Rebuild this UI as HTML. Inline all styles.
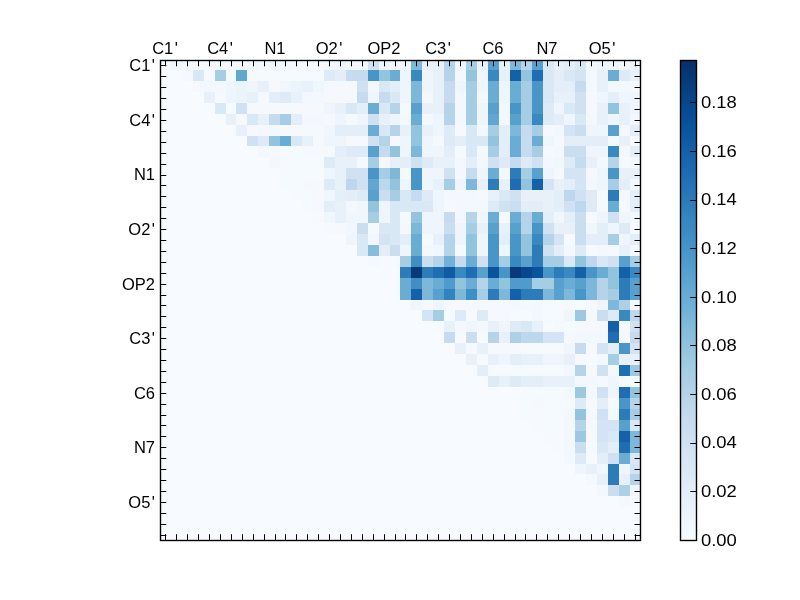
<!DOCTYPE html>
<html><head><meta charset="utf-8"><style>
html,body{margin:0;padding:0;background:#fff;}
body{width:800px;height:600px;position:relative;overflow:hidden;font-family:"Liberation Sans",sans-serif;}
.t{position:absolute;font-size:16.5px;line-height:40px;height:40px;color:#000;white-space:nowrap;will-change:transform;}
svg{position:absolute;left:0;top:0;}
</style></head><body>
<svg width="800" height="600" viewBox="0 0 800 600">
<defs><linearGradient id="g" x1="0" y1="1" x2="0" y2="0"><stop offset="0.0000" stop-color="#f7fbff"/><stop offset="0.0312" stop-color="#f1f7fd"/><stop offset="0.0625" stop-color="#eaf3fb"/><stop offset="0.0938" stop-color="#e4eff9"/><stop offset="0.1250" stop-color="#deebf7"/><stop offset="0.1562" stop-color="#d8e7f5"/><stop offset="0.1875" stop-color="#d2e3f3"/><stop offset="0.2188" stop-color="#ccdff1"/><stop offset="0.2500" stop-color="#c6dbef"/><stop offset="0.2812" stop-color="#bcd7eb"/><stop offset="0.3125" stop-color="#b2d2e8"/><stop offset="0.3438" stop-color="#a8cee4"/><stop offset="0.3750" stop-color="#9dcae1"/><stop offset="0.4062" stop-color="#91c3de"/><stop offset="0.4375" stop-color="#84bcdb"/><stop offset="0.4688" stop-color="#77b5d9"/><stop offset="0.5000" stop-color="#6aaed6"/><stop offset="0.5312" stop-color="#60a7d2"/><stop offset="0.5625" stop-color="#56a0ce"/><stop offset="0.5938" stop-color="#4b98ca"/><stop offset="0.6250" stop-color="#4191c6"/><stop offset="0.6562" stop-color="#3989c1"/><stop offset="0.6875" stop-color="#3181bd"/><stop offset="0.7188" stop-color="#2979b9"/><stop offset="0.7500" stop-color="#2070b4"/><stop offset="0.7812" stop-color="#1a68ae"/><stop offset="0.8125" stop-color="#1460a8"/><stop offset="0.8438" stop-color="#0e58a2"/><stop offset="0.8750" stop-color="#08509b"/><stop offset="0.9062" stop-color="#08488e"/><stop offset="0.9375" stop-color="#084082"/><stop offset="0.9688" stop-color="#083776"/><stop offset="1.0000" stop-color="#08306b"/></linearGradient></defs>
<rect x="160" y="60" width="480" height="480" fill="#f7fbff"/>
<g shape-rendering="crispEdges"><rect x="171" y="60" width="11" height="10" fill="#eff6fc"/><rect x="182" y="60" width="11" height="10" fill="#f2f8fd"/><rect x="193" y="60" width="11" height="10" fill="#f5f9fe"/><rect x="204" y="60" width="11" height="10" fill="#f2f8fd"/><rect x="215" y="60" width="11" height="10" fill="#f2f8fd"/><rect x="226" y="60" width="10" height="10" fill="#f5f9fe"/><rect x="236" y="60" width="11" height="10" fill="#f5f9fe"/><rect x="247" y="60" width="11" height="10" fill="#eff6fc"/><rect x="258" y="60" width="11" height="10" fill="#f2f8fd"/><rect x="269" y="60" width="11" height="10" fill="#eef5fc"/><rect x="280" y="60" width="11" height="10" fill="#f2f8fd"/><rect x="291" y="60" width="11" height="10" fill="#f5f9fe"/><rect x="302" y="60" width="11" height="10" fill="#f5f9fe"/><rect x="313" y="60" width="11" height="10" fill="#f5f9fe"/><rect x="324" y="60" width="11" height="10" fill="#f2f8fd"/><rect x="335" y="60" width="11" height="10" fill="#eef5fc"/><rect x="346" y="60" width="11" height="10" fill="#f2f8fd"/><rect x="357" y="60" width="11" height="10" fill="#f2f8fd"/><rect x="368" y="60" width="11" height="10" fill="#d0e1f2"/><rect x="379" y="60" width="11" height="10" fill="#eef5fc"/><rect x="390" y="60" width="10" height="10" fill="#f2f8fd"/><rect x="400" y="60" width="11" height="10" fill="#eef5fc"/><rect x="411" y="60" width="11" height="10" fill="#7db8da"/><rect x="422" y="60" width="11" height="10" fill="#e8f1fa"/><rect x="433" y="60" width="11" height="10" fill="#e8f1fa"/><rect x="444" y="60" width="11" height="10" fill="#b5d4e9"/><rect x="455" y="60" width="11" height="10" fill="#eef5fc"/><rect x="466" y="60" width="11" height="10" fill="#a5cde3"/><rect x="477" y="60" width="11" height="10" fill="#e8f1fa"/><rect x="488" y="60" width="11" height="10" fill="#58a1cf"/><rect x="499" y="60" width="11" height="10" fill="#e8f1fa"/><rect x="510" y="60" width="11" height="10" fill="#7db8da"/><rect x="521" y="60" width="11" height="10" fill="#b5d4e9"/><rect x="532" y="60" width="11" height="10" fill="#58a1cf"/><rect x="543" y="60" width="11" height="10" fill="#d9e8f5"/><rect x="554" y="60" width="10" height="10" fill="#e8f1fa"/><rect x="564" y="60" width="11" height="10" fill="#e3eef9"/><rect x="575" y="60" width="11" height="10" fill="#d9e8f5"/><rect x="586" y="60" width="11" height="10" fill="#f2f8fd"/><rect x="597" y="60" width="11" height="10" fill="#eef5fc"/><rect x="608" y="60" width="11" height="10" fill="#eef5fc"/><rect x="619" y="60" width="11" height="10" fill="#f2f8fd"/><rect x="630" y="60" width="10" height="10" fill="#eef5fc"/><rect x="182" y="70" width="11" height="11" fill="#f5f9fe"/><rect x="193" y="70" width="11" height="11" fill="#d9e8f5"/><rect x="204" y="70" width="11" height="11" fill="#f5fafe"/><rect x="215" y="70" width="11" height="11" fill="#a5cde3"/><rect x="226" y="70" width="10" height="11" fill="#f5fafe"/><rect x="236" y="70" width="11" height="11" fill="#60a7d2"/><rect x="247" y="70" width="11" height="11" fill="#f5fafe"/><rect x="258" y="70" width="11" height="11" fill="#f5fafe"/><rect x="269" y="70" width="11" height="11" fill="#f5fafe"/><rect x="280" y="70" width="11" height="11" fill="#f5fafe"/><rect x="291" y="70" width="11" height="11" fill="#f5fafe"/><rect x="302" y="70" width="11" height="11" fill="#f5fafe"/><rect x="313" y="70" width="11" height="11" fill="#f5fafe"/><rect x="324" y="70" width="11" height="11" fill="#deebf7"/><rect x="335" y="70" width="11" height="11" fill="#e3eef9"/><rect x="346" y="70" width="11" height="11" fill="#c6dbef"/><rect x="357" y="70" width="11" height="11" fill="#c6dbef"/><rect x="368" y="70" width="11" height="11" fill="#4896c8"/><rect x="379" y="70" width="11" height="11" fill="#92c4de"/><rect x="390" y="70" width="10" height="11" fill="#69add5"/><rect x="400" y="70" width="11" height="11" fill="#eef5fc"/><rect x="411" y="70" width="11" height="11" fill="#3989c1"/><rect x="422" y="70" width="11" height="11" fill="#eef5fc"/><rect x="433" y="70" width="11" height="11" fill="#e8f1fa"/><rect x="444" y="70" width="11" height="11" fill="#b5d4e9"/><rect x="455" y="70" width="11" height="11" fill="#f2f8fd"/><rect x="466" y="70" width="11" height="11" fill="#92c4de"/><rect x="477" y="70" width="11" height="11" fill="#eef5fc"/><rect x="488" y="70" width="11" height="11" fill="#3989c1"/><rect x="499" y="70" width="11" height="11" fill="#e8f1fa"/><rect x="510" y="70" width="11" height="11" fill="#1561a9"/><rect x="521" y="70" width="11" height="11" fill="#92c4de"/><rect x="532" y="70" width="11" height="11" fill="#1f6eb3"/><rect x="543" y="70" width="11" height="11" fill="#d9e8f5"/><rect x="554" y="70" width="10" height="11" fill="#e3eef9"/><rect x="564" y="70" width="11" height="11" fill="#d9e8f5"/><rect x="575" y="70" width="11" height="11" fill="#d4e4f4"/><rect x="586" y="70" width="11" height="11" fill="#f2f8fd"/><rect x="597" y="70" width="11" height="11" fill="#e8f1fa"/><rect x="608" y="70" width="11" height="11" fill="#69add5"/><rect x="619" y="70" width="11" height="11" fill="#deebf7"/><rect x="630" y="70" width="10" height="11" fill="#e8f1fa"/><rect x="193" y="81" width="11" height="11" fill="#f5f9fe"/><rect x="204" y="81" width="11" height="11" fill="#f2f8fd"/><rect x="215" y="81" width="11" height="11" fill="#f2f8fd"/><rect x="226" y="81" width="10" height="11" fill="#eef5fc"/><rect x="236" y="81" width="11" height="11" fill="#ebf3fb"/><rect x="247" y="81" width="11" height="11" fill="#eef5fc"/><rect x="258" y="81" width="11" height="11" fill="#e8f1fa"/><rect x="269" y="81" width="11" height="11" fill="#f5f9fe"/><rect x="280" y="81" width="11" height="11" fill="#eff6fc"/><rect x="291" y="81" width="11" height="11" fill="#ebf3fb"/><rect x="302" y="81" width="11" height="11" fill="#e8f1fa"/><rect x="313" y="81" width="11" height="11" fill="#eff6fc"/><rect x="324" y="81" width="11" height="11" fill="#f5f9fe"/><rect x="335" y="81" width="11" height="11" fill="#f5f9fe"/><rect x="346" y="81" width="11" height="11" fill="#f5f9fe"/><rect x="357" y="81" width="11" height="11" fill="#d0e1f2"/><rect x="368" y="81" width="11" height="11" fill="#f2f8fd"/><rect x="379" y="81" width="11" height="11" fill="#d9e8f5"/><rect x="390" y="81" width="10" height="11" fill="#e3eef9"/><rect x="400" y="81" width="11" height="11" fill="#eef5fc"/><rect x="411" y="81" width="11" height="11" fill="#7db8da"/><rect x="422" y="81" width="11" height="11" fill="#eef5fc"/><rect x="433" y="81" width="11" height="11" fill="#e8f1fa"/><rect x="444" y="81" width="11" height="11" fill="#c6dbef"/><rect x="455" y="81" width="11" height="11" fill="#eef5fc"/><rect x="466" y="81" width="11" height="11" fill="#a5cde3"/><rect x="477" y="81" width="11" height="11" fill="#eef5fc"/><rect x="488" y="81" width="11" height="11" fill="#69add5"/><rect x="499" y="81" width="11" height="11" fill="#eef5fc"/><rect x="510" y="81" width="11" height="11" fill="#69add5"/><rect x="521" y="81" width="11" height="11" fill="#a5cde3"/><rect x="532" y="81" width="11" height="11" fill="#4896c8"/><rect x="543" y="81" width="11" height="11" fill="#d9e8f5"/><rect x="554" y="81" width="10" height="11" fill="#e3eef9"/><rect x="564" y="81" width="11" height="11" fill="#e3eef9"/><rect x="575" y="81" width="11" height="11" fill="#c6dbef"/><rect x="586" y="81" width="11" height="11" fill="#f2f8fd"/><rect x="597" y="81" width="11" height="11" fill="#e8f1fa"/><rect x="608" y="81" width="11" height="11" fill="#f2f8fd"/><rect x="619" y="81" width="11" height="11" fill="#f2f8fd"/><rect x="630" y="81" width="10" height="11" fill="#f5f9fe"/><rect x="204" y="92" width="11" height="11" fill="#e8f1fa"/><rect x="215" y="92" width="11" height="11" fill="#f5f9fe"/><rect x="226" y="92" width="10" height="11" fill="#eef5fc"/><rect x="236" y="92" width="11" height="11" fill="#ebf3fb"/><rect x="247" y="92" width="11" height="11" fill="#e8f1fa"/><rect x="258" y="92" width="11" height="11" fill="#f5f9fe"/><rect x="269" y="92" width="11" height="11" fill="#e3eef9"/><rect x="280" y="92" width="11" height="11" fill="#deebf7"/><rect x="291" y="92" width="11" height="11" fill="#e8f1fa"/><rect x="302" y="92" width="11" height="11" fill="#f2f8fd"/><rect x="313" y="92" width="11" height="11" fill="#f2f8fd"/><rect x="324" y="92" width="11" height="11" fill="#f5f9fe"/><rect x="335" y="92" width="11" height="11" fill="#f5f9fe"/><rect x="346" y="92" width="11" height="11" fill="#f5f9fe"/><rect x="357" y="92" width="11" height="11" fill="#c6dbef"/><rect x="368" y="92" width="11" height="11" fill="#eef5fc"/><rect x="379" y="92" width="11" height="11" fill="#c6dbef"/><rect x="390" y="92" width="10" height="11" fill="#d9e8f5"/><rect x="400" y="92" width="11" height="11" fill="#eef5fc"/><rect x="411" y="92" width="11" height="11" fill="#7db8da"/><rect x="422" y="92" width="11" height="11" fill="#f2f8fd"/><rect x="433" y="92" width="11" height="11" fill="#e8f1fa"/><rect x="444" y="92" width="11" height="11" fill="#c6dbef"/><rect x="455" y="92" width="11" height="11" fill="#f2f8fd"/><rect x="466" y="92" width="11" height="11" fill="#a5cde3"/><rect x="477" y="92" width="11" height="11" fill="#f2f8fd"/><rect x="488" y="92" width="11" height="11" fill="#69add5"/><rect x="499" y="92" width="11" height="11" fill="#eef5fc"/><rect x="510" y="92" width="11" height="11" fill="#69add5"/><rect x="521" y="92" width="11" height="11" fill="#a5cde3"/><rect x="532" y="92" width="11" height="11" fill="#4896c8"/><rect x="543" y="92" width="11" height="11" fill="#d9e8f5"/><rect x="554" y="92" width="10" height="11" fill="#e8f1fa"/><rect x="564" y="92" width="11" height="11" fill="#e8f1fa"/><rect x="575" y="92" width="11" height="11" fill="#d0e1f2"/><rect x="586" y="92" width="11" height="11" fill="#f5f9fe"/><rect x="597" y="92" width="11" height="11" fill="#eef5fc"/><rect x="608" y="92" width="11" height="11" fill="#e3eef9"/><rect x="619" y="92" width="11" height="11" fill="#eef5fc"/><rect x="630" y="92" width="10" height="11" fill="#eef5fc"/><rect x="215" y="103" width="11" height="11" fill="#d9e8f5"/><rect x="226" y="103" width="10" height="11" fill="#f5fafe"/><rect x="236" y="103" width="11" height="11" fill="#d0e1f2"/><rect x="247" y="103" width="11" height="11" fill="#f5f9fe"/><rect x="258" y="103" width="11" height="11" fill="#f5f9fe"/><rect x="269" y="103" width="11" height="11" fill="#f5f9fe"/><rect x="280" y="103" width="11" height="11" fill="#f5f9fe"/><rect x="291" y="103" width="11" height="11" fill="#f5f9fe"/><rect x="302" y="103" width="11" height="11" fill="#f5f9fe"/><rect x="313" y="103" width="11" height="11" fill="#f5f9fe"/><rect x="324" y="103" width="11" height="11" fill="#eef5fc"/><rect x="335" y="103" width="11" height="11" fill="#e8f1fa"/><rect x="346" y="103" width="11" height="11" fill="#d9e8f5"/><rect x="357" y="103" width="11" height="11" fill="#e3eef9"/><rect x="368" y="103" width="11" height="11" fill="#69add5"/><rect x="379" y="103" width="11" height="11" fill="#d9e8f5"/><rect x="390" y="103" width="10" height="11" fill="#b5d4e9"/><rect x="400" y="103" width="11" height="11" fill="#f5f9fe"/><rect x="411" y="103" width="11" height="11" fill="#58a1cf"/><rect x="422" y="103" width="11" height="11" fill="#e8f1fa"/><rect x="433" y="103" width="11" height="11" fill="#e8f1fa"/><rect x="444" y="103" width="11" height="11" fill="#b5d4e9"/><rect x="455" y="103" width="11" height="11" fill="#f2f8fd"/><rect x="466" y="103" width="11" height="11" fill="#a5cde3"/><rect x="477" y="103" width="11" height="11" fill="#eef5fc"/><rect x="488" y="103" width="11" height="11" fill="#58a1cf"/><rect x="499" y="103" width="11" height="11" fill="#f2f8fd"/><rect x="510" y="103" width="11" height="11" fill="#4896c8"/><rect x="521" y="103" width="11" height="11" fill="#a5cde3"/><rect x="532" y="103" width="11" height="11" fill="#4896c8"/><rect x="543" y="103" width="11" height="11" fill="#deebf7"/><rect x="554" y="103" width="10" height="11" fill="#eef5fc"/><rect x="564" y="103" width="11" height="11" fill="#d9e8f5"/><rect x="575" y="103" width="11" height="11" fill="#d0e1f2"/><rect x="586" y="103" width="11" height="11" fill="#f5f9fe"/><rect x="597" y="103" width="11" height="11" fill="#e8f1fa"/><rect x="608" y="103" width="11" height="11" fill="#92c4de"/><rect x="619" y="103" width="11" height="11" fill="#e8f1fa"/><rect x="630" y="103" width="10" height="11" fill="#eef5fc"/><rect x="226" y="114" width="10" height="11" fill="#e8f1fa"/><rect x="236" y="114" width="11" height="11" fill="#f5f9fe"/><rect x="247" y="114" width="11" height="11" fill="#d9e8f5"/><rect x="258" y="114" width="11" height="11" fill="#e8f1fa"/><rect x="269" y="114" width="11" height="11" fill="#c6dbef"/><rect x="280" y="114" width="11" height="11" fill="#a5cde3"/><rect x="291" y="114" width="11" height="11" fill="#e3eef9"/><rect x="302" y="114" width="11" height="11" fill="#f2f8fd"/><rect x="313" y="114" width="11" height="11" fill="#f2f8fd"/><rect x="324" y="114" width="11" height="11" fill="#f5f9fe"/><rect x="335" y="114" width="11" height="11" fill="#eef5fc"/><rect x="346" y="114" width="11" height="11" fill="#f5f9fe"/><rect x="357" y="114" width="11" height="11" fill="#eef5fc"/><rect x="368" y="114" width="11" height="11" fill="#d0e1f2"/><rect x="379" y="114" width="11" height="11" fill="#e8f1fa"/><rect x="390" y="114" width="10" height="11" fill="#eef5fc"/><rect x="400" y="114" width="11" height="11" fill="#f2f8fd"/><rect x="411" y="114" width="11" height="11" fill="#69add5"/><rect x="422" y="114" width="11" height="11" fill="#f2f8fd"/><rect x="433" y="114" width="11" height="11" fill="#eef5fc"/><rect x="444" y="114" width="11" height="11" fill="#b5d4e9"/><rect x="455" y="114" width="11" height="11" fill="#f2f8fd"/><rect x="466" y="114" width="11" height="11" fill="#a5cde3"/><rect x="477" y="114" width="11" height="11" fill="#eef5fc"/><rect x="488" y="114" width="11" height="11" fill="#60a7d2"/><rect x="499" y="114" width="11" height="11" fill="#f2f8fd"/><rect x="510" y="114" width="11" height="11" fill="#58a1cf"/><rect x="521" y="114" width="11" height="11" fill="#a5cde3"/><rect x="532" y="114" width="11" height="11" fill="#3989c1"/><rect x="543" y="114" width="11" height="11" fill="#deebf7"/><rect x="554" y="114" width="10" height="11" fill="#e3eef9"/><rect x="564" y="114" width="11" height="11" fill="#eef5fc"/><rect x="575" y="114" width="11" height="11" fill="#d9e8f5"/><rect x="586" y="114" width="11" height="11" fill="#f2f8fd"/><rect x="597" y="114" width="11" height="11" fill="#e8f1fa"/><rect x="608" y="114" width="11" height="11" fill="#eef5fc"/><rect x="619" y="114" width="11" height="11" fill="#e8f1fa"/><rect x="630" y="114" width="10" height="11" fill="#f2f8fd"/><rect x="236" y="125" width="11" height="11" fill="#e8f1fa"/><rect x="247" y="125" width="11" height="11" fill="#f5f9fe"/><rect x="258" y="125" width="11" height="11" fill="#f2f8fd"/><rect x="269" y="125" width="11" height="11" fill="#f2f8fd"/><rect x="280" y="125" width="11" height="11" fill="#f5f9fe"/><rect x="291" y="125" width="11" height="11" fill="#f5f9fe"/><rect x="302" y="125" width="11" height="11" fill="#f5f9fe"/><rect x="313" y="125" width="11" height="11" fill="#f5f9fe"/><rect x="324" y="125" width="11" height="11" fill="#eff6fc"/><rect x="335" y="125" width="11" height="11" fill="#e3eef9"/><rect x="346" y="125" width="11" height="11" fill="#e3eef9"/><rect x="357" y="125" width="11" height="11" fill="#e3eef9"/><rect x="368" y="125" width="11" height="11" fill="#69add5"/><rect x="379" y="125" width="11" height="11" fill="#d9e8f5"/><rect x="390" y="125" width="10" height="11" fill="#b5d4e9"/><rect x="400" y="125" width="11" height="11" fill="#e8f1fa"/><rect x="411" y="125" width="11" height="11" fill="#92c4de"/><rect x="422" y="125" width="11" height="11" fill="#e8f1fa"/><rect x="433" y="125" width="11" height="11" fill="#eef5fc"/><rect x="444" y="125" width="11" height="11" fill="#deebf7"/><rect x="455" y="125" width="11" height="11" fill="#f5f9fe"/><rect x="466" y="125" width="11" height="11" fill="#d9e8f5"/><rect x="477" y="125" width="11" height="11" fill="#f2f8fd"/><rect x="488" y="125" width="11" height="11" fill="#a5cde3"/><rect x="499" y="125" width="11" height="11" fill="#e3eef9"/><rect x="510" y="125" width="11" height="11" fill="#7db8da"/><rect x="521" y="125" width="11" height="11" fill="#c6dbef"/><rect x="532" y="125" width="11" height="11" fill="#a5cde3"/><rect x="543" y="125" width="11" height="11" fill="#f5f9fe"/><rect x="554" y="125" width="10" height="11" fill="#f2f8fd"/><rect x="564" y="125" width="11" height="11" fill="#d4e4f4"/><rect x="575" y="125" width="11" height="11" fill="#cadef0"/><rect x="586" y="125" width="11" height="11" fill="#eef5fc"/><rect x="597" y="125" width="11" height="11" fill="#eef5fc"/><rect x="608" y="125" width="11" height="11" fill="#58a1cf"/><rect x="619" y="125" width="11" height="11" fill="#f2f8fd"/><rect x="630" y="125" width="10" height="11" fill="#e3eef9"/><rect x="247" y="136" width="11" height="10" fill="#d0e1f2"/><rect x="258" y="136" width="11" height="10" fill="#deebf7"/><rect x="269" y="136" width="11" height="10" fill="#92c4de"/><rect x="280" y="136" width="11" height="10" fill="#69add5"/><rect x="291" y="136" width="11" height="10" fill="#d9e8f5"/><rect x="302" y="136" width="11" height="10" fill="#e8f1fa"/><rect x="313" y="136" width="11" height="10" fill="#f5f9fe"/><rect x="324" y="136" width="11" height="10" fill="#eef5fc"/><rect x="335" y="136" width="11" height="10" fill="#eef5fc"/><rect x="346" y="136" width="11" height="10" fill="#f5f9fe"/><rect x="357" y="136" width="11" height="10" fill="#f5f9fe"/><rect x="368" y="136" width="11" height="10" fill="#d0e1f2"/><rect x="379" y="136" width="11" height="10" fill="#b5d4e9"/><rect x="390" y="136" width="10" height="10" fill="#f5f9fe"/><rect x="400" y="136" width="11" height="10" fill="#eef5fc"/><rect x="411" y="136" width="11" height="10" fill="#92c4de"/><rect x="422" y="136" width="11" height="10" fill="#eef5fc"/><rect x="433" y="136" width="11" height="10" fill="#f5f9fe"/><rect x="444" y="136" width="11" height="10" fill="#deebf7"/><rect x="455" y="136" width="11" height="10" fill="#e3eef9"/><rect x="466" y="136" width="11" height="10" fill="#d9e8f5"/><rect x="477" y="136" width="11" height="10" fill="#d9e8f5"/><rect x="488" y="136" width="11" height="10" fill="#92c4de"/><rect x="499" y="136" width="11" height="10" fill="#e3eef9"/><rect x="510" y="136" width="11" height="10" fill="#69add5"/><rect x="521" y="136" width="11" height="10" fill="#c6dbef"/><rect x="532" y="136" width="11" height="10" fill="#69add5"/><rect x="543" y="136" width="11" height="10" fill="#eff6fc"/><rect x="554" y="136" width="10" height="10" fill="#f5f9fe"/><rect x="564" y="136" width="11" height="10" fill="#e3eef9"/><rect x="575" y="136" width="11" height="10" fill="#e3eef9"/><rect x="586" y="136" width="11" height="10" fill="#e3eef9"/><rect x="597" y="136" width="11" height="10" fill="#e3eef9"/><rect x="608" y="136" width="11" height="10" fill="#f2f8fd"/><rect x="619" y="136" width="11" height="10" fill="#e8f1fa"/><rect x="630" y="136" width="10" height="10" fill="#f5f9fe"/><rect x="258" y="146" width="11" height="11" fill="#f2f8fd"/><rect x="269" y="146" width="11" height="11" fill="#f5f9fe"/><rect x="280" y="146" width="11" height="11" fill="#f5fafe"/><rect x="291" y="146" width="11" height="11" fill="#f5fafe"/><rect x="302" y="146" width="11" height="11" fill="#f5f9fe"/><rect x="313" y="146" width="11" height="11" fill="#f5f9fe"/><rect x="324" y="146" width="11" height="11" fill="#f5f9fe"/><rect x="335" y="146" width="11" height="11" fill="#e3eef9"/><rect x="346" y="146" width="11" height="11" fill="#deebf7"/><rect x="357" y="146" width="11" height="11" fill="#deebf7"/><rect x="368" y="146" width="11" height="11" fill="#58a1cf"/><rect x="379" y="146" width="11" height="11" fill="#c6dbef"/><rect x="390" y="146" width="10" height="11" fill="#92c4de"/><rect x="400" y="146" width="11" height="11" fill="#eef5fc"/><rect x="411" y="146" width="11" height="11" fill="#7db8da"/><rect x="422" y="146" width="11" height="11" fill="#eef5fc"/><rect x="433" y="146" width="11" height="11" fill="#eef5fc"/><rect x="444" y="146" width="11" height="11" fill="#e3eef9"/><rect x="455" y="146" width="11" height="11" fill="#f5fafe"/><rect x="466" y="146" width="11" height="11" fill="#d9e8f5"/><rect x="477" y="146" width="11" height="11" fill="#f2f8fd"/><rect x="488" y="146" width="11" height="11" fill="#a5cde3"/><rect x="499" y="146" width="11" height="11" fill="#e3eef9"/><rect x="510" y="146" width="11" height="11" fill="#69add5"/><rect x="521" y="146" width="11" height="11" fill="#c6dbef"/><rect x="532" y="146" width="11" height="11" fill="#a5cde3"/><rect x="543" y="146" width="11" height="11" fill="#f5f9fe"/><rect x="554" y="146" width="10" height="11" fill="#f2f8fd"/><rect x="564" y="146" width="11" height="11" fill="#cadef0"/><rect x="575" y="146" width="11" height="11" fill="#cadef0"/><rect x="586" y="146" width="11" height="11" fill="#eef5fc"/><rect x="597" y="146" width="11" height="11" fill="#eef5fc"/><rect x="608" y="146" width="11" height="11" fill="#3989c1"/><rect x="619" y="146" width="11" height="11" fill="#f2f8fd"/><rect x="630" y="146" width="10" height="11" fill="#e3eef9"/><rect x="269" y="157" width="11" height="11" fill="#f2f8fd"/><rect x="280" y="157" width="11" height="11" fill="#f5fafe"/><rect x="291" y="157" width="11" height="11" fill="#f5fafe"/><rect x="302" y="157" width="11" height="11" fill="#f5fafe"/><rect x="313" y="157" width="11" height="11" fill="#f5fafe"/><rect x="324" y="157" width="11" height="11" fill="#deebf7"/><rect x="335" y="157" width="11" height="11" fill="#e8f1fa"/><rect x="346" y="157" width="11" height="11" fill="#e8f1fa"/><rect x="357" y="157" width="11" height="11" fill="#f5f9fe"/><rect x="368" y="157" width="11" height="11" fill="#a5cde3"/><rect x="379" y="157" width="11" height="11" fill="#f5f9fe"/><rect x="390" y="157" width="10" height="11" fill="#e8f1fa"/><rect x="400" y="157" width="11" height="11" fill="#e3eef9"/><rect x="411" y="157" width="11" height="11" fill="#d0e1f2"/><rect x="422" y="157" width="11" height="11" fill="#deebf7"/><rect x="433" y="157" width="11" height="11" fill="#e8f1fa"/><rect x="444" y="157" width="11" height="11" fill="#e8f1fa"/><rect x="455" y="157" width="11" height="11" fill="#f2f8fd"/><rect x="466" y="157" width="11" height="11" fill="#e3eef9"/><rect x="477" y="157" width="11" height="11" fill="#f2f8fd"/><rect x="488" y="157" width="11" height="11" fill="#d0e1f2"/><rect x="499" y="157" width="11" height="11" fill="#deebf7"/><rect x="510" y="157" width="11" height="11" fill="#c6dbef"/><rect x="521" y="157" width="11" height="11" fill="#deebf7"/><rect x="532" y="157" width="11" height="11" fill="#d0e1f2"/><rect x="543" y="157" width="11" height="11" fill="#f2f8fd"/><rect x="554" y="157" width="10" height="11" fill="#eff6fc"/><rect x="564" y="157" width="11" height="11" fill="#deebf7"/><rect x="575" y="157" width="11" height="11" fill="#c6dbef"/><rect x="586" y="157" width="11" height="11" fill="#e8f1fa"/><rect x="597" y="157" width="11" height="11" fill="#f2f8fd"/><rect x="608" y="157" width="11" height="11" fill="#b5d4e9"/><rect x="619" y="157" width="11" height="11" fill="#f5f9fe"/><rect x="630" y="157" width="10" height="11" fill="#f2f8fd"/><rect x="280" y="168" width="11" height="11" fill="#f5fafe"/><rect x="291" y="168" width="11" height="11" fill="#f5fafe"/><rect x="302" y="168" width="11" height="11" fill="#f5fafe"/><rect x="313" y="168" width="11" height="11" fill="#f5fafe"/><rect x="324" y="168" width="11" height="11" fill="#eef5fc"/><rect x="335" y="168" width="11" height="11" fill="#e8f1fa"/><rect x="346" y="168" width="11" height="11" fill="#d0e1f2"/><rect x="357" y="168" width="11" height="11" fill="#d0e1f2"/><rect x="368" y="168" width="11" height="11" fill="#4896c8"/><rect x="379" y="168" width="11" height="11" fill="#a5cde3"/><rect x="390" y="168" width="10" height="11" fill="#7db8da"/><rect x="400" y="168" width="11" height="11" fill="#f5f9fe"/><rect x="411" y="168" width="11" height="11" fill="#4896c8"/><rect x="422" y="168" width="11" height="11" fill="#eef5fc"/><rect x="433" y="168" width="11" height="11" fill="#eef5fc"/><rect x="444" y="168" width="11" height="11" fill="#d0e1f2"/><rect x="455" y="168" width="11" height="11" fill="#f2f8fd"/><rect x="466" y="168" width="11" height="11" fill="#c6dbef"/><rect x="477" y="168" width="11" height="11" fill="#eef5fc"/><rect x="488" y="168" width="11" height="11" fill="#69add5"/><rect x="499" y="168" width="11" height="11" fill="#f2f8fd"/><rect x="510" y="168" width="11" height="11" fill="#2c7cba"/><rect x="521" y="168" width="11" height="11" fill="#a5cde3"/><rect x="532" y="168" width="11" height="11" fill="#58a1cf"/><rect x="543" y="168" width="11" height="11" fill="#eef5fc"/><rect x="554" y="168" width="10" height="11" fill="#f5f9fe"/><rect x="564" y="168" width="11" height="11" fill="#d4e4f4"/><rect x="575" y="168" width="11" height="11" fill="#d4e4f4"/><rect x="586" y="168" width="11" height="11" fill="#f5f9fe"/><rect x="597" y="168" width="11" height="11" fill="#eef5fc"/><rect x="608" y="168" width="11" height="11" fill="#4896c8"/><rect x="619" y="168" width="11" height="11" fill="#e8f1fa"/><rect x="630" y="168" width="10" height="11" fill="#e8f1fa"/><rect x="280" y="179" width="11" height="11" fill="#f5fafe"/><rect x="291" y="179" width="11" height="11" fill="#f5fafe"/><rect x="302" y="179" width="11" height="11" fill="#f5f9fe"/><rect x="313" y="179" width="11" height="11" fill="#f5f9fe"/><rect x="324" y="179" width="11" height="11" fill="#deebf7"/><rect x="335" y="179" width="11" height="11" fill="#e8f1fa"/><rect x="346" y="179" width="11" height="11" fill="#bdd7ec"/><rect x="357" y="179" width="11" height="11" fill="#d0e1f2"/><rect x="368" y="179" width="11" height="11" fill="#60a7d2"/><rect x="379" y="179" width="11" height="11" fill="#bdd7ec"/><rect x="390" y="179" width="10" height="11" fill="#92c4de"/><rect x="400" y="179" width="11" height="11" fill="#eef5fc"/><rect x="411" y="179" width="11" height="11" fill="#4896c8"/><rect x="422" y="179" width="11" height="11" fill="#eef5fc"/><rect x="433" y="179" width="11" height="11" fill="#e8f1fa"/><rect x="444" y="179" width="11" height="11" fill="#a5cde3"/><rect x="455" y="179" width="11" height="11" fill="#eef5fc"/><rect x="466" y="179" width="11" height="11" fill="#7db8da"/><rect x="477" y="179" width="11" height="11" fill="#e8f1fa"/><rect x="488" y="179" width="11" height="11" fill="#2c7cba"/><rect x="499" y="179" width="11" height="11" fill="#e8f1fa"/><rect x="510" y="179" width="11" height="11" fill="#1f6eb3"/><rect x="521" y="179" width="11" height="11" fill="#92c4de"/><rect x="532" y="179" width="11" height="11" fill="#1561a9"/><rect x="543" y="179" width="11" height="11" fill="#d4e4f4"/><rect x="554" y="179" width="10" height="11" fill="#e8f1fa"/><rect x="564" y="179" width="11" height="11" fill="#e3eef9"/><rect x="575" y="179" width="11" height="11" fill="#d4e4f4"/><rect x="586" y="179" width="11" height="11" fill="#f2f8fd"/><rect x="597" y="179" width="11" height="11" fill="#eef5fc"/><rect x="608" y="179" width="11" height="11" fill="#a5cde3"/><rect x="619" y="179" width="11" height="11" fill="#e3eef9"/><rect x="630" y="179" width="10" height="11" fill="#f2f8fd"/><rect x="302" y="190" width="11" height="11" fill="#f5fafe"/><rect x="313" y="190" width="11" height="11" fill="#f5f9fe"/><rect x="324" y="190" width="11" height="11" fill="#eff6fc"/><rect x="335" y="190" width="11" height="11" fill="#e5eff9"/><rect x="346" y="190" width="11" height="11" fill="#e3eef9"/><rect x="357" y="190" width="11" height="11" fill="#deebf7"/><rect x="368" y="190" width="11" height="11" fill="#58a1cf"/><rect x="379" y="190" width="11" height="11" fill="#cadef0"/><rect x="390" y="190" width="10" height="11" fill="#a5cde3"/><rect x="400" y="190" width="11" height="11" fill="#d9e8f5"/><rect x="411" y="190" width="11" height="11" fill="#c6dbef"/><rect x="422" y="190" width="11" height="11" fill="#deebf7"/><rect x="433" y="190" width="11" height="11" fill="#eef5fc"/><rect x="444" y="190" width="11" height="11" fill="#f2f8fd"/><rect x="455" y="190" width="11" height="11" fill="#f2f8fd"/><rect x="466" y="190" width="11" height="11" fill="#f2f8fd"/><rect x="477" y="190" width="11" height="11" fill="#f5f9fe"/><rect x="488" y="190" width="11" height="11" fill="#e8f1fa"/><rect x="499" y="190" width="11" height="11" fill="#d9e8f5"/><rect x="510" y="190" width="11" height="11" fill="#d0e1f2"/><rect x="521" y="190" width="11" height="11" fill="#e8f1fa"/><rect x="532" y="190" width="11" height="11" fill="#e8f1fa"/><rect x="543" y="190" width="11" height="11" fill="#e8f1fa"/><rect x="554" y="190" width="10" height="11" fill="#e3eef9"/><rect x="564" y="190" width="11" height="11" fill="#bdd7ec"/><rect x="575" y="190" width="11" height="11" fill="#d0e1f2"/><rect x="586" y="190" width="11" height="11" fill="#deebf7"/><rect x="597" y="190" width="11" height="11" fill="#f5f9fe"/><rect x="608" y="190" width="11" height="11" fill="#2c7cba"/><rect x="619" y="190" width="11" height="11" fill="#f2f8fd"/><rect x="630" y="190" width="10" height="11" fill="#e3eef9"/><rect x="291" y="190" width="11" height="11" fill="#f5fafe"/><rect x="302" y="201" width="11" height="11" fill="#f5fafe"/><rect x="313" y="201" width="11" height="11" fill="#f5f9fe"/><rect x="324" y="201" width="11" height="11" fill="#e3eef9"/><rect x="335" y="201" width="11" height="11" fill="#e8f1fa"/><rect x="346" y="201" width="11" height="11" fill="#f2f8fd"/><rect x="357" y="201" width="11" height="11" fill="#eff6fc"/><rect x="368" y="201" width="11" height="11" fill="#92c4de"/><rect x="379" y="201" width="11" height="11" fill="#eef5fc"/><rect x="390" y="201" width="10" height="11" fill="#d9e8f5"/><rect x="400" y="201" width="11" height="11" fill="#d9e8f5"/><rect x="411" y="201" width="11" height="11" fill="#d9e8f5"/><rect x="422" y="201" width="11" height="11" fill="#d9e8f5"/><rect x="433" y="201" width="11" height="11" fill="#eef5fc"/><rect x="444" y="201" width="11" height="11" fill="#f5f9fe"/><rect x="455" y="201" width="11" height="11" fill="#f2f8fd"/><rect x="466" y="201" width="11" height="11" fill="#f2f8fd"/><rect x="477" y="201" width="11" height="11" fill="#f2f8fd"/><rect x="488" y="201" width="11" height="11" fill="#deebf7"/><rect x="499" y="201" width="11" height="11" fill="#d0e1f2"/><rect x="510" y="201" width="11" height="11" fill="#cadef0"/><rect x="521" y="201" width="11" height="11" fill="#e3eef9"/><rect x="532" y="201" width="11" height="11" fill="#e3eef9"/><rect x="543" y="201" width="11" height="11" fill="#e8f1fa"/><rect x="554" y="201" width="10" height="11" fill="#e3eef9"/><rect x="564" y="201" width="11" height="11" fill="#d0e1f2"/><rect x="575" y="201" width="11" height="11" fill="#bdd7ec"/><rect x="586" y="201" width="11" height="11" fill="#deebf7"/><rect x="597" y="201" width="11" height="11" fill="#f5f9fe"/><rect x="608" y="201" width="11" height="11" fill="#69add5"/><rect x="619" y="201" width="11" height="11" fill="#f5f9fe"/><rect x="630" y="201" width="10" height="11" fill="#e3eef9"/><rect x="313" y="212" width="11" height="11" fill="#f6faff"/><rect x="324" y="212" width="11" height="11" fill="#eff6fc"/><rect x="335" y="212" width="11" height="11" fill="#e8f1fa"/><rect x="346" y="212" width="11" height="11" fill="#eff6fc"/><rect x="357" y="212" width="11" height="11" fill="#eff6fc"/><rect x="368" y="212" width="11" height="11" fill="#a5cde3"/><rect x="379" y="212" width="11" height="11" fill="#eef5fc"/><rect x="390" y="212" width="10" height="11" fill="#d9e8f5"/><rect x="400" y="212" width="11" height="11" fill="#f5f9fe"/><rect x="411" y="212" width="11" height="11" fill="#92c4de"/><rect x="422" y="212" width="11" height="11" fill="#eef5fc"/><rect x="433" y="212" width="11" height="11" fill="#eef5fc"/><rect x="444" y="212" width="11" height="11" fill="#c6dbef"/><rect x="455" y="212" width="11" height="11" fill="#f2f8fd"/><rect x="466" y="212" width="11" height="11" fill="#b5d4e9"/><rect x="477" y="212" width="11" height="11" fill="#eff6fc"/><rect x="488" y="212" width="11" height="11" fill="#69add5"/><rect x="499" y="212" width="11" height="11" fill="#f5f9fe"/><rect x="510" y="212" width="11" height="11" fill="#69add5"/><rect x="521" y="212" width="11" height="11" fill="#b5d4e9"/><rect x="532" y="212" width="11" height="11" fill="#69add5"/><rect x="543" y="212" width="11" height="11" fill="#e3eef9"/><rect x="554" y="212" width="10" height="11" fill="#eff6fc"/><rect x="564" y="212" width="11" height="11" fill="#e3eef9"/><rect x="575" y="212" width="11" height="11" fill="#cadef0"/><rect x="586" y="212" width="11" height="11" fill="#f5fafe"/><rect x="597" y="212" width="11" height="11" fill="#eef5fc"/><rect x="608" y="212" width="11" height="11" fill="#d0e1f2"/><rect x="619" y="212" width="11" height="11" fill="#eef5fc"/><rect x="630" y="212" width="10" height="11" fill="#f2f8fd"/><rect x="324" y="223" width="11" height="11" fill="#f6faff"/><rect x="335" y="223" width="11" height="11" fill="#f5f9fe"/><rect x="346" y="223" width="11" height="11" fill="#f2f7fd"/><rect x="357" y="223" width="11" height="11" fill="#cadef0"/><rect x="368" y="223" width="11" height="11" fill="#f5f9fe"/><rect x="379" y="223" width="11" height="11" fill="#d9e8f5"/><rect x="390" y="223" width="10" height="11" fill="#d9e8f5"/><rect x="400" y="223" width="11" height="11" fill="#f2f8fd"/><rect x="411" y="223" width="11" height="11" fill="#7db8da"/><rect x="422" y="223" width="11" height="11" fill="#eef5fc"/><rect x="433" y="223" width="11" height="11" fill="#eef5fc"/><rect x="444" y="223" width="11" height="11" fill="#cadef0"/><rect x="455" y="223" width="11" height="11" fill="#eef5fc"/><rect x="466" y="223" width="11" height="11" fill="#a5cde3"/><rect x="477" y="223" width="11" height="11" fill="#e8f1fa"/><rect x="488" y="223" width="11" height="11" fill="#58a1cf"/><rect x="499" y="223" width="11" height="11" fill="#e8f1fa"/><rect x="510" y="223" width="11" height="11" fill="#58a1cf"/><rect x="521" y="223" width="11" height="11" fill="#b5d4e9"/><rect x="532" y="223" width="11" height="11" fill="#4896c8"/><rect x="543" y="223" width="11" height="11" fill="#d0e1f2"/><rect x="554" y="223" width="10" height="11" fill="#e8f1fa"/><rect x="564" y="223" width="11" height="11" fill="#e8f1fa"/><rect x="575" y="223" width="11" height="11" fill="#cadef0"/><rect x="586" y="223" width="11" height="11" fill="#eff6fc"/><rect x="597" y="223" width="11" height="11" fill="#e3eef9"/><rect x="608" y="223" width="11" height="11" fill="#eef5fc"/><rect x="619" y="223" width="11" height="11" fill="#deebf7"/><rect x="630" y="223" width="10" height="11" fill="#f5f9fe"/><rect x="335" y="234" width="11" height="11" fill="#f7fbff"/><rect x="346" y="234" width="11" height="11" fill="#eef5fc"/><rect x="357" y="234" width="11" height="11" fill="#d9e8f5"/><rect x="368" y="234" width="11" height="11" fill="#f2f7fd"/><rect x="379" y="234" width="11" height="11" fill="#d4e4f4"/><rect x="390" y="234" width="10" height="11" fill="#d9e8f5"/><rect x="400" y="234" width="11" height="11" fill="#e3eef9"/><rect x="411" y="234" width="11" height="11" fill="#69add5"/><rect x="422" y="234" width="11" height="11" fill="#f5fafe"/><rect x="433" y="234" width="11" height="11" fill="#e8f1fa"/><rect x="444" y="234" width="11" height="11" fill="#b5d4e9"/><rect x="455" y="234" width="11" height="11" fill="#eef5fc"/><rect x="466" y="234" width="11" height="11" fill="#92c4de"/><rect x="477" y="234" width="11" height="11" fill="#eef5fc"/><rect x="488" y="234" width="11" height="11" fill="#4896c8"/><rect x="499" y="234" width="11" height="11" fill="#e3eef9"/><rect x="510" y="234" width="11" height="11" fill="#4896c8"/><rect x="521" y="234" width="11" height="11" fill="#92c4de"/><rect x="532" y="234" width="11" height="11" fill="#3989c1"/><rect x="543" y="234" width="11" height="11" fill="#b5d4e9"/><rect x="554" y="234" width="10" height="11" fill="#d4e4f4"/><rect x="564" y="234" width="11" height="11" fill="#f5fafe"/><rect x="575" y="234" width="11" height="11" fill="#cadef0"/><rect x="586" y="234" width="11" height="11" fill="#e3eef9"/><rect x="597" y="234" width="11" height="11" fill="#e3eef9"/><rect x="608" y="234" width="11" height="11" fill="#a5cde3"/><rect x="619" y="234" width="11" height="11" fill="#eef5fc"/><rect x="630" y="234" width="10" height="11" fill="#e3eef9"/><rect x="357" y="245" width="11" height="11" fill="#d9e8f5"/><rect x="368" y="245" width="11" height="11" fill="#87bddc"/><rect x="379" y="245" width="11" height="11" fill="#e3eef9"/><rect x="390" y="245" width="10" height="11" fill="#cadef0"/><rect x="400" y="245" width="11" height="11" fill="#eef5fc"/><rect x="411" y="245" width="11" height="11" fill="#69add5"/><rect x="422" y="245" width="11" height="11" fill="#f2f8fd"/><rect x="433" y="245" width="11" height="11" fill="#eff6fc"/><rect x="444" y="245" width="11" height="11" fill="#b5d4e9"/><rect x="455" y="245" width="11" height="11" fill="#f5fafe"/><rect x="466" y="245" width="11" height="11" fill="#92c4de"/><rect x="477" y="245" width="11" height="11" fill="#eef5fc"/><rect x="488" y="245" width="11" height="11" fill="#4896c8"/><rect x="499" y="245" width="11" height="11" fill="#eef5fc"/><rect x="510" y="245" width="11" height="11" fill="#4896c8"/><rect x="521" y="245" width="11" height="11" fill="#92c4de"/><rect x="532" y="245" width="11" height="11" fill="#2c7cba"/><rect x="543" y="245" width="11" height="11" fill="#d0e1f2"/><rect x="554" y="245" width="10" height="11" fill="#e3eef9"/><rect x="564" y="245" width="11" height="11" fill="#f2f8fd"/><rect x="575" y="245" width="11" height="11" fill="#deebf7"/><rect x="586" y="245" width="11" height="11" fill="#f5fafe"/><rect x="597" y="245" width="11" height="11" fill="#f2f8fd"/><rect x="608" y="245" width="11" height="11" fill="#f5f9fe"/><rect x="619" y="245" width="11" height="11" fill="#e8f1fa"/><rect x="630" y="245" width="10" height="11" fill="#f2f8fd"/><rect x="368" y="256" width="11" height="11" fill="#f5f9fe"/><rect x="379" y="256" width="11" height="11" fill="#f5fafe"/><rect x="390" y="256" width="10" height="11" fill="#f5fafe"/><rect x="400" y="256" width="11" height="11" fill="#a5cde3"/><rect x="411" y="256" width="11" height="11" fill="#3f8fc5"/><rect x="422" y="256" width="11" height="11" fill="#cadef0"/><rect x="433" y="256" width="11" height="11" fill="#b5d4e9"/><rect x="444" y="256" width="11" height="11" fill="#72b2d8"/><rect x="455" y="256" width="11" height="11" fill="#c6dbef"/><rect x="466" y="256" width="11" height="11" fill="#69add5"/><rect x="477" y="256" width="11" height="11" fill="#d0e1f2"/><rect x="488" y="256" width="11" height="11" fill="#4896c8"/><rect x="499" y="256" width="11" height="11" fill="#a5cde3"/><rect x="510" y="256" width="11" height="11" fill="#3989c1"/><rect x="521" y="256" width="11" height="11" fill="#58a1cf"/><rect x="532" y="256" width="11" height="11" fill="#2c7cba"/><rect x="543" y="256" width="11" height="11" fill="#a5cde3"/><rect x="554" y="256" width="10" height="11" fill="#a5cde3"/><rect x="564" y="256" width="11" height="11" fill="#d9e8f5"/><rect x="575" y="256" width="11" height="11" fill="#92c4de"/><rect x="586" y="256" width="11" height="11" fill="#bdd7ec"/><rect x="597" y="256" width="11" height="11" fill="#d9e8f5"/><rect x="608" y="256" width="11" height="11" fill="#d0e1f2"/><rect x="619" y="256" width="11" height="11" fill="#58a1cf"/><rect x="630" y="256" width="10" height="11" fill="#a5cde3"/><rect x="379" y="267" width="11" height="11" fill="#f5fafe"/><rect x="400" y="267" width="11" height="11" fill="#2c7cba"/><rect x="411" y="267" width="11" height="11" fill="#083979"/><rect x="422" y="267" width="11" height="11" fill="#2c7cba"/><rect x="433" y="267" width="11" height="11" fill="#1f6eb3"/><rect x="444" y="267" width="11" height="11" fill="#105ba4"/><rect x="455" y="267" width="11" height="11" fill="#3989c1"/><rect x="466" y="267" width="11" height="11" fill="#1f6eb3"/><rect x="477" y="267" width="11" height="11" fill="#58a1cf"/><rect x="488" y="267" width="11" height="11" fill="#0a549e"/><rect x="499" y="267" width="11" height="11" fill="#4896c8"/><rect x="510" y="267" width="11" height="11" fill="#083979"/><rect x="521" y="267" width="11" height="11" fill="#08478d"/><rect x="532" y="267" width="11" height="11" fill="#0a549e"/><rect x="543" y="267" width="11" height="11" fill="#4896c8"/><rect x="554" y="267" width="10" height="11" fill="#2c7cba"/><rect x="564" y="267" width="11" height="11" fill="#3989c1"/><rect x="575" y="267" width="11" height="11" fill="#1561a9"/><rect x="586" y="267" width="11" height="11" fill="#4896c8"/><rect x="597" y="267" width="11" height="11" fill="#69add5"/><rect x="608" y="267" width="11" height="11" fill="#92c4de"/><rect x="619" y="267" width="11" height="11" fill="#1561a9"/><rect x="630" y="267" width="10" height="11" fill="#3989c1"/><rect x="400" y="278" width="11" height="11" fill="#69add5"/><rect x="411" y="278" width="11" height="11" fill="#3f8fc5"/><rect x="422" y="278" width="11" height="11" fill="#7db8da"/><rect x="433" y="278" width="11" height="11" fill="#69add5"/><rect x="444" y="278" width="11" height="11" fill="#4f9bcb"/><rect x="455" y="278" width="11" height="11" fill="#92c4de"/><rect x="466" y="278" width="11" height="11" fill="#69add5"/><rect x="477" y="278" width="11" height="11" fill="#b5d4e9"/><rect x="488" y="278" width="11" height="11" fill="#69add5"/><rect x="499" y="278" width="11" height="11" fill="#92c4de"/><rect x="510" y="278" width="11" height="11" fill="#4f9bcb"/><rect x="521" y="278" width="11" height="11" fill="#4f9bcb"/><rect x="532" y="278" width="11" height="11" fill="#a5cde3"/><rect x="543" y="278" width="11" height="11" fill="#a5cde3"/><rect x="554" y="278" width="10" height="11" fill="#58a1cf"/><rect x="564" y="278" width="11" height="11" fill="#69add5"/><rect x="575" y="278" width="11" height="11" fill="#58a1cf"/><rect x="586" y="278" width="11" height="11" fill="#7db8da"/><rect x="597" y="278" width="11" height="11" fill="#b5d4e9"/><rect x="608" y="278" width="11" height="11" fill="#92c4de"/><rect x="619" y="278" width="11" height="11" fill="#2c7cba"/><rect x="630" y="278" width="10" height="11" fill="#58a1cf"/><rect x="400" y="289" width="11" height="11" fill="#69add5"/><rect x="411" y="289" width="11" height="11" fill="#1561a9"/><rect x="422" y="289" width="11" height="11" fill="#7db8da"/><rect x="433" y="289" width="11" height="11" fill="#58a1cf"/><rect x="444" y="289" width="11" height="11" fill="#3383be"/><rect x="455" y="289" width="11" height="11" fill="#7db8da"/><rect x="466" y="289" width="11" height="11" fill="#3f8fc5"/><rect x="477" y="289" width="11" height="11" fill="#a5cde3"/><rect x="488" y="289" width="11" height="11" fill="#2c7cba"/><rect x="499" y="289" width="11" height="11" fill="#7db8da"/><rect x="510" y="289" width="11" height="11" fill="#1561a9"/><rect x="521" y="289" width="11" height="11" fill="#2c7cba"/><rect x="532" y="289" width="11" height="11" fill="#2c7cba"/><rect x="543" y="289" width="11" height="11" fill="#7db8da"/><rect x="554" y="289" width="10" height="11" fill="#58a1cf"/><rect x="564" y="289" width="11" height="11" fill="#7db8da"/><rect x="575" y="289" width="11" height="11" fill="#4896c8"/><rect x="586" y="289" width="11" height="11" fill="#7db8da"/><rect x="597" y="289" width="11" height="11" fill="#b5d4e9"/><rect x="608" y="289" width="11" height="11" fill="#a5cde3"/><rect x="619" y="289" width="11" height="11" fill="#2c7cba"/><rect x="630" y="289" width="10" height="11" fill="#58a1cf"/><rect x="411" y="300" width="11" height="10" fill="#eff6fc"/><rect x="422" y="300" width="11" height="10" fill="#f5f9fe"/><rect x="433" y="300" width="11" height="10" fill="#eef5fc"/><rect x="444" y="300" width="11" height="10" fill="#f5f9fe"/><rect x="455" y="300" width="11" height="10" fill="#f5f9fe"/><rect x="466" y="300" width="11" height="10" fill="#f5f9fe"/><rect x="477" y="300" width="11" height="10" fill="#f5f9fe"/><rect x="488" y="300" width="11" height="10" fill="#f5f9fe"/><rect x="499" y="300" width="11" height="10" fill="#f5f9fe"/><rect x="510" y="300" width="11" height="10" fill="#f2f8fd"/><rect x="521" y="300" width="11" height="10" fill="#f5f9fe"/><rect x="532" y="300" width="11" height="10" fill="#f2f8fd"/><rect x="543" y="300" width="11" height="10" fill="#f5fafe"/><rect x="554" y="300" width="10" height="10" fill="#f5fafe"/><rect x="564" y="300" width="11" height="10" fill="#f5f9fe"/><rect x="575" y="300" width="11" height="10" fill="#f5fafe"/><rect x="586" y="300" width="11" height="10" fill="#f5f9fe"/><rect x="597" y="300" width="11" height="10" fill="#eef5fc"/><rect x="608" y="300" width="11" height="10" fill="#7db8da"/><rect x="619" y="300" width="11" height="10" fill="#add0e6"/><rect x="630" y="300" width="10" height="10" fill="#f5f9fe"/><rect x="422" y="310" width="11" height="11" fill="#d4e4f4"/><rect x="433" y="310" width="11" height="11" fill="#a5cde3"/><rect x="444" y="310" width="11" height="11" fill="#f5fafe"/><rect x="455" y="310" width="11" height="11" fill="#deebf7"/><rect x="466" y="310" width="11" height="11" fill="#f5fafe"/><rect x="477" y="310" width="11" height="11" fill="#deebf7"/><rect x="488" y="310" width="11" height="11" fill="#f5f9fe"/><rect x="499" y="310" width="11" height="11" fill="#f5f9fe"/><rect x="510" y="310" width="11" height="11" fill="#f5fafe"/><rect x="521" y="310" width="11" height="11" fill="#f5fafe"/><rect x="532" y="310" width="11" height="11" fill="#f2f8fd"/><rect x="543" y="310" width="11" height="11" fill="#f5fafe"/><rect x="554" y="310" width="10" height="11" fill="#f5fafe"/><rect x="564" y="310" width="11" height="11" fill="#eff6fc"/><rect x="575" y="310" width="11" height="11" fill="#9cc9e1"/><rect x="586" y="310" width="11" height="11" fill="#f5f9fe"/><rect x="597" y="310" width="11" height="11" fill="#cadef0"/><rect x="608" y="310" width="11" height="11" fill="#deebf7"/><rect x="619" y="310" width="11" height="11" fill="#3989c1"/><rect x="630" y="310" width="10" height="11" fill="#bdd7ec"/><rect x="433" y="321" width="11" height="11" fill="#f5fafe"/><rect x="444" y="321" width="11" height="11" fill="#e8f1fa"/><rect x="455" y="321" width="11" height="11" fill="#f2f8fd"/><rect x="466" y="321" width="11" height="11" fill="#eef5fc"/><rect x="477" y="321" width="11" height="11" fill="#f2f8fd"/><rect x="488" y="321" width="11" height="11" fill="#e8f1fa"/><rect x="499" y="321" width="11" height="11" fill="#eef5fc"/><rect x="510" y="321" width="11" height="11" fill="#deebf7"/><rect x="521" y="321" width="11" height="11" fill="#d9e8f5"/><rect x="532" y="321" width="11" height="11" fill="#e8f1fa"/><rect x="543" y="321" width="11" height="11" fill="#f5fafe"/><rect x="554" y="321" width="10" height="11" fill="#f5f9fe"/><rect x="564" y="321" width="11" height="11" fill="#f5fafe"/><rect x="575" y="321" width="11" height="11" fill="#f5f9fe"/><rect x="586" y="321" width="11" height="11" fill="#f5f9fe"/><rect x="597" y="321" width="11" height="11" fill="#f5f9fe"/><rect x="608" y="321" width="11" height="11" fill="#1561a9"/><rect x="619" y="321" width="11" height="11" fill="#f5f9fe"/><rect x="630" y="321" width="10" height="11" fill="#d0e1f2"/><rect x="444" y="332" width="11" height="11" fill="#c6dbef"/><rect x="455" y="332" width="11" height="11" fill="#f5fafe"/><rect x="466" y="332" width="11" height="11" fill="#cadef0"/><rect x="477" y="332" width="11" height="11" fill="#f5fafe"/><rect x="488" y="332" width="11" height="11" fill="#b5d4e9"/><rect x="499" y="332" width="11" height="11" fill="#e8f1fa"/><rect x="510" y="332" width="11" height="11" fill="#add0e6"/><rect x="521" y="332" width="11" height="11" fill="#bdd7ec"/><rect x="532" y="332" width="11" height="11" fill="#bdd7ec"/><rect x="543" y="332" width="11" height="11" fill="#d4e4f4"/><rect x="554" y="332" width="10" height="11" fill="#d4e4f4"/><rect x="564" y="332" width="11" height="11" fill="#f5f9fe"/><rect x="575" y="332" width="11" height="11" fill="#f2f8fd"/><rect x="586" y="332" width="11" height="11" fill="#f2f8fd"/><rect x="597" y="332" width="11" height="11" fill="#f2f8fd"/><rect x="608" y="332" width="11" height="11" fill="#1f6eb3"/><rect x="619" y="332" width="11" height="11" fill="#f5f9fe"/><rect x="630" y="332" width="10" height="11" fill="#c6dbef"/><rect x="455" y="343" width="11" height="11" fill="#e8f1fa"/><rect x="466" y="343" width="11" height="11" fill="#f5fafe"/><rect x="477" y="343" width="11" height="11" fill="#e8f1fa"/><rect x="488" y="343" width="11" height="11" fill="#f5f9fe"/><rect x="499" y="343" width="11" height="11" fill="#f5f9fe"/><rect x="510" y="343" width="11" height="11" fill="#f5f9fe"/><rect x="521" y="343" width="11" height="11" fill="#f5fafe"/><rect x="532" y="343" width="11" height="11" fill="#f5fafe"/><rect x="543" y="343" width="11" height="11" fill="#f5fafe"/><rect x="554" y="343" width="10" height="11" fill="#f5fafe"/><rect x="564" y="343" width="11" height="11" fill="#eff6fc"/><rect x="575" y="343" width="11" height="11" fill="#c6dbef"/><rect x="586" y="343" width="11" height="11" fill="#f5f9fe"/><rect x="597" y="343" width="11" height="11" fill="#d4e4f4"/><rect x="608" y="343" width="11" height="11" fill="#e3eef9"/><rect x="619" y="343" width="11" height="11" fill="#4896c8"/><rect x="630" y="343" width="10" height="11" fill="#d4e4f4"/><rect x="466" y="354" width="11" height="11" fill="#e8f1fa"/><rect x="477" y="354" width="11" height="11" fill="#f5fafe"/><rect x="488" y="354" width="11" height="11" fill="#e8f1fa"/><rect x="499" y="354" width="11" height="11" fill="#eef5fc"/><rect x="510" y="354" width="11" height="11" fill="#e3eef9"/><rect x="521" y="354" width="11" height="11" fill="#e8f1fa"/><rect x="532" y="354" width="11" height="11" fill="#e8f1fa"/><rect x="543" y="354" width="11" height="11" fill="#eef5fc"/><rect x="554" y="354" width="10" height="11" fill="#eef5fc"/><rect x="564" y="354" width="11" height="11" fill="#e8f1fa"/><rect x="575" y="354" width="11" height="11" fill="#f5f9fe"/><rect x="586" y="354" width="11" height="11" fill="#f5fafe"/><rect x="597" y="354" width="11" height="11" fill="#f2f8fd"/><rect x="608" y="354" width="11" height="11" fill="#a5cde3"/><rect x="619" y="354" width="11" height="11" fill="#e8f1fa"/><rect x="630" y="354" width="10" height="11" fill="#e8f1fa"/><rect x="477" y="365" width="11" height="11" fill="#e3eef9"/><rect x="488" y="365" width="11" height="11" fill="#f5fafe"/><rect x="499" y="365" width="11" height="11" fill="#f5fafe"/><rect x="510" y="365" width="11" height="11" fill="#f5fafe"/><rect x="521" y="365" width="11" height="11" fill="#f5fafe"/><rect x="532" y="365" width="11" height="11" fill="#f5fafe"/><rect x="543" y="365" width="11" height="11" fill="#f5fafe"/><rect x="554" y="365" width="10" height="11" fill="#f5fafe"/><rect x="564" y="365" width="11" height="11" fill="#f2f8fd"/><rect x="575" y="365" width="11" height="11" fill="#b5d4e9"/><rect x="586" y="365" width="11" height="11" fill="#f5f9fe"/><rect x="597" y="365" width="11" height="11" fill="#d0e1f2"/><rect x="608" y="365" width="11" height="11" fill="#f2f8fd"/><rect x="619" y="365" width="11" height="11" fill="#1f6eb3"/><rect x="630" y="365" width="10" height="11" fill="#9cc9e1"/><rect x="488" y="376" width="11" height="11" fill="#deebf7"/><rect x="499" y="376" width="11" height="11" fill="#e8f1fa"/><rect x="510" y="376" width="11" height="11" fill="#deebf7"/><rect x="521" y="376" width="11" height="11" fill="#e3eef9"/><rect x="532" y="376" width="11" height="11" fill="#e3eef9"/><rect x="543" y="376" width="11" height="11" fill="#e8f1fa"/><rect x="554" y="376" width="10" height="11" fill="#e8f1fa"/><rect x="564" y="376" width="11" height="11" fill="#e8f1fa"/><rect x="575" y="376" width="11" height="11" fill="#f2f8fd"/><rect x="586" y="376" width="11" height="11" fill="#f2f8fd"/><rect x="597" y="376" width="11" height="11" fill="#f5f9fe"/><rect x="608" y="376" width="11" height="11" fill="#eef5fc"/><rect x="619" y="376" width="11" height="11" fill="#f5f9fe"/><rect x="630" y="376" width="10" height="11" fill="#f2f8fd"/><rect x="521" y="387" width="11" height="11" fill="#f5fafe"/><rect x="532" y="387" width="11" height="11" fill="#f5fafe"/><rect x="543" y="387" width="11" height="11" fill="#f5fafe"/><rect x="554" y="387" width="10" height="11" fill="#f5fafe"/><rect x="564" y="387" width="11" height="11" fill="#f2f8fd"/><rect x="575" y="387" width="11" height="11" fill="#9cc9e1"/><rect x="586" y="387" width="11" height="11" fill="#f2f8fd"/><rect x="597" y="387" width="11" height="11" fill="#d0e1f2"/><rect x="608" y="387" width="11" height="11" fill="#eef5fc"/><rect x="619" y="387" width="11" height="11" fill="#1f6eb3"/><rect x="630" y="387" width="10" height="11" fill="#92c4de"/><rect x="521" y="398" width="11" height="11" fill="#f5fafe"/><rect x="532" y="398" width="11" height="11" fill="#f5f9fe"/><rect x="543" y="398" width="11" height="11" fill="#f5fafe"/><rect x="554" y="398" width="10" height="11" fill="#f5fafe"/><rect x="564" y="398" width="11" height="11" fill="#f5f9fe"/><rect x="575" y="398" width="11" height="11" fill="#deebf7"/><rect x="586" y="398" width="11" height="11" fill="#f5f9fe"/><rect x="597" y="398" width="11" height="11" fill="#e3eef9"/><rect x="608" y="398" width="11" height="11" fill="#f5f9fe"/><rect x="619" y="398" width="11" height="11" fill="#4896c8"/><rect x="630" y="398" width="10" height="11" fill="#b5d4e9"/><rect x="521" y="409" width="11" height="11" fill="#f5fafe"/><rect x="532" y="409" width="11" height="11" fill="#f5fafe"/><rect x="543" y="409" width="11" height="11" fill="#f5fafe"/><rect x="554" y="409" width="10" height="11" fill="#f5fafe"/><rect x="564" y="409" width="11" height="11" fill="#f2f8fd"/><rect x="575" y="409" width="11" height="11" fill="#92c4de"/><rect x="586" y="409" width="11" height="11" fill="#f2f8fd"/><rect x="597" y="409" width="11" height="11" fill="#d0e1f2"/><rect x="608" y="409" width="11" height="11" fill="#f2f8fd"/><rect x="619" y="409" width="11" height="11" fill="#2c7cba"/><rect x="630" y="409" width="10" height="11" fill="#a5cde3"/><rect x="532" y="420" width="11" height="11" fill="#f5fafe"/><rect x="543" y="420" width="11" height="11" fill="#f5fafe"/><rect x="554" y="420" width="10" height="11" fill="#f5fafe"/><rect x="564" y="420" width="11" height="11" fill="#f2f8fd"/><rect x="575" y="420" width="11" height="11" fill="#b5d4e9"/><rect x="586" y="420" width="11" height="11" fill="#f5f9fe"/><rect x="597" y="420" width="11" height="11" fill="#d4e4f4"/><rect x="608" y="420" width="11" height="11" fill="#d4e4f4"/><rect x="619" y="420" width="11" height="11" fill="#58a1cf"/><rect x="630" y="420" width="10" height="11" fill="#d9e8f5"/><rect x="543" y="431" width="11" height="11" fill="#f5fafe"/><rect x="554" y="431" width="10" height="11" fill="#f6faff"/><rect x="564" y="431" width="11" height="11" fill="#f2f8fd"/><rect x="575" y="431" width="11" height="11" fill="#9cc9e1"/><rect x="586" y="431" width="11" height="11" fill="#f5f9fe"/><rect x="597" y="431" width="11" height="11" fill="#d4e4f4"/><rect x="608" y="431" width="11" height="11" fill="#d9e8f5"/><rect x="619" y="431" width="11" height="11" fill="#1561a9"/><rect x="630" y="431" width="10" height="11" fill="#7db8da"/><rect x="554" y="442" width="10" height="11" fill="#f6faff"/><rect x="564" y="442" width="11" height="11" fill="#f2f8fd"/><rect x="575" y="442" width="11" height="11" fill="#cadef0"/><rect x="586" y="442" width="11" height="11" fill="#f5fafe"/><rect x="597" y="442" width="11" height="11" fill="#d9e8f5"/><rect x="608" y="442" width="11" height="11" fill="#e3eef9"/><rect x="619" y="442" width="11" height="11" fill="#1f6eb3"/><rect x="630" y="442" width="10" height="11" fill="#7db8da"/><rect x="564" y="453" width="11" height="11" fill="#f2f8fd"/><rect x="575" y="453" width="11" height="11" fill="#deebf7"/><rect x="586" y="453" width="11" height="11" fill="#f5fafe"/><rect x="597" y="453" width="11" height="11" fill="#e3eef9"/><rect x="608" y="453" width="11" height="11" fill="#d0e1f2"/><rect x="619" y="453" width="11" height="11" fill="#69add5"/><rect x="630" y="453" width="10" height="11" fill="#d9e8f5"/><rect x="575" y="464" width="11" height="10" fill="#eef5fc"/><rect x="586" y="464" width="11" height="10" fill="#e8f1fa"/><rect x="597" y="464" width="11" height="10" fill="#eff6fc"/><rect x="608" y="464" width="11" height="10" fill="#2c7cba"/><rect x="619" y="464" width="11" height="10" fill="#eef5fc"/><rect x="630" y="464" width="10" height="10" fill="#d4e4f4"/><rect x="586" y="474" width="11" height="11" fill="#f5f9fe"/><rect x="597" y="474" width="11" height="11" fill="#e8f1fa"/><rect x="608" y="474" width="11" height="11" fill="#2c7cba"/><rect x="619" y="474" width="11" height="11" fill="#e8f1fa"/><rect x="630" y="474" width="10" height="11" fill="#b5d4e9"/><rect x="597" y="485" width="11" height="11" fill="#f2f8fd"/><rect x="608" y="485" width="11" height="11" fill="#cadef0"/><rect x="619" y="485" width="11" height="11" fill="#add0e6"/><rect x="630" y="485" width="10" height="11" fill="#eef5fc"/><rect x="619" y="496" width="11" height="11" fill="#f5f9fe"/><rect x="630" y="496" width="10" height="11" fill="#f6faff"/></g>
<g fill="#000"><rect x="165" y="60" width="1" height="6.3"/><rect x="165" y="534.2" width="1" height="5.8"/><rect x="160" y="65" width="6.3" height="1"/><rect x="634.5" y="65" width="5.5" height="1"/><rect x="176" y="60" width="1" height="6.3"/><rect x="176" y="534.2" width="1" height="5.8"/><rect x="160" y="76" width="6.3" height="1"/><rect x="634.5" y="76" width="5.5" height="1"/><rect x="187" y="60" width="1" height="6.3"/><rect x="187" y="534.2" width="1" height="5.8"/><rect x="160" y="87" width="6.3" height="1"/><rect x="634.5" y="87" width="5.5" height="1"/><rect x="198" y="60" width="1" height="6.3"/><rect x="198" y="534.2" width="1" height="5.8"/><rect x="160" y="98" width="6.3" height="1"/><rect x="634.5" y="98" width="5.5" height="1"/><rect x="209" y="60" width="1" height="6.3"/><rect x="209" y="534.2" width="1" height="5.8"/><rect x="160" y="109" width="6.3" height="1"/><rect x="634.5" y="109" width="5.5" height="1"/><rect x="220" y="60" width="1" height="6.3"/><rect x="220" y="534.2" width="1" height="5.8"/><rect x="160" y="120" width="6.3" height="1"/><rect x="634.5" y="120" width="5.5" height="1"/><rect x="231" y="60" width="1" height="6.3"/><rect x="231" y="534.2" width="1" height="5.8"/><rect x="160" y="131" width="6.3" height="1"/><rect x="634.5" y="131" width="5.5" height="1"/><rect x="242" y="60" width="1" height="6.3"/><rect x="242" y="534.2" width="1" height="5.8"/><rect x="160" y="142" width="6.3" height="1"/><rect x="634.5" y="142" width="5.5" height="1"/><rect x="253" y="60" width="1" height="6.3"/><rect x="253" y="534.2" width="1" height="5.8"/><rect x="160" y="153" width="6.3" height="1"/><rect x="634.5" y="153" width="5.5" height="1"/><rect x="264" y="60" width="1" height="6.3"/><rect x="264" y="534.2" width="1" height="5.8"/><rect x="160" y="164" width="6.3" height="1"/><rect x="634.5" y="164" width="5.5" height="1"/><rect x="275" y="60" width="1" height="6.3"/><rect x="275" y="534.2" width="1" height="5.8"/><rect x="160" y="175" width="6.3" height="1"/><rect x="634.5" y="175" width="5.5" height="1"/><rect x="285" y="60" width="1" height="6.3"/><rect x="285" y="534.2" width="1" height="5.8"/><rect x="160" y="185" width="6.3" height="1"/><rect x="634.5" y="185" width="5.5" height="1"/><rect x="296" y="60" width="1" height="6.3"/><rect x="296" y="534.2" width="1" height="5.8"/><rect x="160" y="196" width="6.3" height="1"/><rect x="634.5" y="196" width="5.5" height="1"/><rect x="307" y="60" width="1" height="6.3"/><rect x="307" y="534.2" width="1" height="5.8"/><rect x="160" y="207" width="6.3" height="1"/><rect x="634.5" y="207" width="5.5" height="1"/><rect x="318" y="60" width="1" height="6.3"/><rect x="318" y="534.2" width="1" height="5.8"/><rect x="160" y="218" width="6.3" height="1"/><rect x="634.5" y="218" width="5.5" height="1"/><rect x="329" y="60" width="1" height="6.3"/><rect x="329" y="534.2" width="1" height="5.8"/><rect x="160" y="229" width="6.3" height="1"/><rect x="634.5" y="229" width="5.5" height="1"/><rect x="340" y="60" width="1" height="6.3"/><rect x="340" y="534.2" width="1" height="5.8"/><rect x="160" y="240" width="6.3" height="1"/><rect x="634.5" y="240" width="5.5" height="1"/><rect x="351" y="60" width="1" height="6.3"/><rect x="351" y="534.2" width="1" height="5.8"/><rect x="160" y="251" width="6.3" height="1"/><rect x="634.5" y="251" width="5.5" height="1"/><rect x="362" y="60" width="1" height="6.3"/><rect x="362" y="534.2" width="1" height="5.8"/><rect x="160" y="262" width="6.3" height="1"/><rect x="634.5" y="262" width="5.5" height="1"/><rect x="373" y="60" width="1" height="6.3"/><rect x="373" y="534.2" width="1" height="5.8"/><rect x="160" y="273" width="6.3" height="1"/><rect x="634.5" y="273" width="5.5" height="1"/><rect x="384" y="60" width="1" height="6.3"/><rect x="384" y="534.2" width="1" height="5.8"/><rect x="160" y="284" width="6.3" height="1"/><rect x="634.5" y="284" width="5.5" height="1"/><rect x="395" y="60" width="1" height="6.3"/><rect x="395" y="534.2" width="1" height="5.8"/><rect x="160" y="295" width="6.3" height="1"/><rect x="634.5" y="295" width="5.5" height="1"/><rect x="405" y="60" width="1" height="6.3"/><rect x="405" y="534.2" width="1" height="5.8"/><rect x="160" y="305" width="6.3" height="1"/><rect x="634.5" y="305" width="5.5" height="1"/><rect x="416" y="60" width="1" height="6.3"/><rect x="416" y="534.2" width="1" height="5.8"/><rect x="160" y="316" width="6.3" height="1"/><rect x="634.5" y="316" width="5.5" height="1"/><rect x="427" y="60" width="1" height="6.3"/><rect x="427" y="534.2" width="1" height="5.8"/><rect x="160" y="327" width="6.3" height="1"/><rect x="634.5" y="327" width="5.5" height="1"/><rect x="438" y="60" width="1" height="6.3"/><rect x="438" y="534.2" width="1" height="5.8"/><rect x="160" y="338" width="6.3" height="1"/><rect x="634.5" y="338" width="5.5" height="1"/><rect x="449" y="60" width="1" height="6.3"/><rect x="449" y="534.2" width="1" height="5.8"/><rect x="160" y="349" width="6.3" height="1"/><rect x="634.5" y="349" width="5.5" height="1"/><rect x="460" y="60" width="1" height="6.3"/><rect x="460" y="534.2" width="1" height="5.8"/><rect x="160" y="360" width="6.3" height="1"/><rect x="634.5" y="360" width="5.5" height="1"/><rect x="471" y="60" width="1" height="6.3"/><rect x="471" y="534.2" width="1" height="5.8"/><rect x="160" y="371" width="6.3" height="1"/><rect x="634.5" y="371" width="5.5" height="1"/><rect x="482" y="60" width="1" height="6.3"/><rect x="482" y="534.2" width="1" height="5.8"/><rect x="160" y="382" width="6.3" height="1"/><rect x="634.5" y="382" width="5.5" height="1"/><rect x="493" y="60" width="1" height="6.3"/><rect x="493" y="534.2" width="1" height="5.8"/><rect x="160" y="393" width="6.3" height="1"/><rect x="634.5" y="393" width="5.5" height="1"/><rect x="504" y="60" width="1" height="6.3"/><rect x="504" y="534.2" width="1" height="5.8"/><rect x="160" y="404" width="6.3" height="1"/><rect x="634.5" y="404" width="5.5" height="1"/><rect x="515" y="60" width="1" height="6.3"/><rect x="515" y="534.2" width="1" height="5.8"/><rect x="160" y="415" width="6.3" height="1"/><rect x="634.5" y="415" width="5.5" height="1"/><rect x="525" y="60" width="1" height="6.3"/><rect x="525" y="534.2" width="1" height="5.8"/><rect x="160" y="425" width="6.3" height="1"/><rect x="634.5" y="425" width="5.5" height="1"/><rect x="536" y="60" width="1" height="6.3"/><rect x="536" y="534.2" width="1" height="5.8"/><rect x="160" y="436" width="6.3" height="1"/><rect x="634.5" y="436" width="5.5" height="1"/><rect x="547" y="60" width="1" height="6.3"/><rect x="547" y="534.2" width="1" height="5.8"/><rect x="160" y="447" width="6.3" height="1"/><rect x="634.5" y="447" width="5.5" height="1"/><rect x="558" y="60" width="1" height="6.3"/><rect x="558" y="534.2" width="1" height="5.8"/><rect x="160" y="458" width="6.3" height="1"/><rect x="634.5" y="458" width="5.5" height="1"/><rect x="569" y="60" width="1" height="6.3"/><rect x="569" y="534.2" width="1" height="5.8"/><rect x="160" y="469" width="6.3" height="1"/><rect x="634.5" y="469" width="5.5" height="1"/><rect x="580" y="60" width="1" height="6.3"/><rect x="580" y="534.2" width="1" height="5.8"/><rect x="160" y="480" width="6.3" height="1"/><rect x="634.5" y="480" width="5.5" height="1"/><rect x="591" y="60" width="1" height="6.3"/><rect x="591" y="534.2" width="1" height="5.8"/><rect x="160" y="491" width="6.3" height="1"/><rect x="634.5" y="491" width="5.5" height="1"/><rect x="602" y="60" width="1" height="6.3"/><rect x="602" y="534.2" width="1" height="5.8"/><rect x="160" y="502" width="6.3" height="1"/><rect x="634.5" y="502" width="5.5" height="1"/><rect x="613" y="60" width="1" height="6.3"/><rect x="613" y="534.2" width="1" height="5.8"/><rect x="160" y="513" width="6.3" height="1"/><rect x="634.5" y="513" width="5.5" height="1"/><rect x="624" y="60" width="1" height="6.3"/><rect x="624" y="534.2" width="1" height="5.8"/><rect x="160" y="524" width="6.3" height="1"/><rect x="634.5" y="524" width="5.5" height="1"/><rect x="635" y="60" width="1" height="6.3"/><rect x="635" y="534.2" width="1" height="5.8"/><rect x="160" y="535" width="6.3" height="1"/><rect x="634.5" y="535" width="5.5" height="1"/></g>
<rect x="160.5" y="60.5" width="480" height="480" fill="none" stroke="#000" stroke-width="1.39"/>
<rect x="680.5" y="60.5" width="16" height="480" fill="url(#g)"/>
<g fill="#000"><rect x="690.2" y="540" width="6.3" height="1"/><rect x="690.2" y="491" width="6.3" height="1"/><rect x="690.2" y="443" width="6.3" height="1"/><rect x="690.2" y="394" width="6.3" height="1"/><rect x="690.2" y="345" width="6.3" height="1"/><rect x="690.2" y="297" width="6.3" height="1"/><rect x="690.2" y="248" width="6.3" height="1"/><rect x="690.2" y="200" width="6.3" height="1"/><rect x="690.2" y="151" width="6.3" height="1"/><rect x="690.2" y="102" width="6.3" height="1"/></g>
<rect x="680.5" y="60.5" width="16" height="480" fill="none" stroke="#000" stroke-width="1.39"/>
</svg>
<div class="t" style="left:115.45px;top:27.8px;width:100px;text-align:center">C1<span style="margin-left:1.5px">'</span></div><div class="t" style="left:170.00px;top:27.8px;width:100px;text-align:center">C4<span style="margin-left:1.5px">'</span></div><div class="t" style="left:224.55px;top:27.8px;width:100px;text-align:center">N1</div><div class="t" style="left:279.09px;top:27.8px;width:100px;text-align:center">O2<span style="margin-left:1.5px">'</span></div><div class="t" style="left:333.64px;top:27.8px;width:100px;text-align:center">OP2</div><div class="t" style="left:388.18px;top:27.8px;width:100px;text-align:center">C3<span style="margin-left:1.5px">'</span></div><div class="t" style="left:442.73px;top:27.8px;width:100px;text-align:center">C6</div><div class="t" style="left:497.27px;top:27.8px;width:100px;text-align:center">N7</div><div class="t" style="left:551.82px;top:27.8px;width:100px;text-align:center">O5<span style="margin-left:1.5px">'</span></div>
<div style="position:absolute;left:0;top:0;"><div class="t" style="left:55px;top:45.35px;width:100px;text-align:right">C1<span style="margin-left:1.5px">'</span></div><div class="t" style="left:55px;top:99.90px;width:100px;text-align:right">C4<span style="margin-left:1.5px">'</span></div><div class="t" style="left:55px;top:154.45px;width:100px;text-align:right">N1</div><div class="t" style="left:55px;top:208.99px;width:100px;text-align:right">O2<span style="margin-left:1.5px">'</span></div><div class="t" style="left:55px;top:263.54px;width:100px;text-align:right">OP2</div><div class="t" style="left:55px;top:318.08px;width:100px;text-align:right">C3<span style="margin-left:1.5px">'</span></div><div class="t" style="left:55px;top:372.63px;width:100px;text-align:right">C6</div><div class="t" style="left:55px;top:427.17px;width:100px;text-align:right">N7</div><div class="t" style="left:55px;top:481.72px;width:100px;text-align:right">O5<span style="margin-left:1.5px">'</span></div></div>
<div class="t" style="left:701px;top:519.60px;transform:scaleX(1.116);transform-origin:0 0;">0.00</div><div class="t" style="left:701px;top:471.00px;transform:scaleX(1.116);transform-origin:0 0;">0.02</div><div class="t" style="left:701px;top:422.40px;transform:scaleX(1.116);transform-origin:0 0;">0.04</div><div class="t" style="left:701px;top:373.80px;transform:scaleX(1.116);transform-origin:0 0;">0.06</div><div class="t" style="left:701px;top:325.20px;transform:scaleX(1.116);transform-origin:0 0;">0.08</div><div class="t" style="left:701px;top:276.60px;transform:scaleX(1.116);transform-origin:0 0;">0.10</div><div class="t" style="left:701px;top:228.00px;transform:scaleX(1.116);transform-origin:0 0;">0.12</div><div class="t" style="left:701px;top:179.40px;transform:scaleX(1.116);transform-origin:0 0;">0.14</div><div class="t" style="left:701px;top:130.80px;transform:scaleX(1.116);transform-origin:0 0;">0.16</div><div class="t" style="left:701px;top:82.20px;transform:scaleX(1.116);transform-origin:0 0;">0.18</div>
</body></html>
